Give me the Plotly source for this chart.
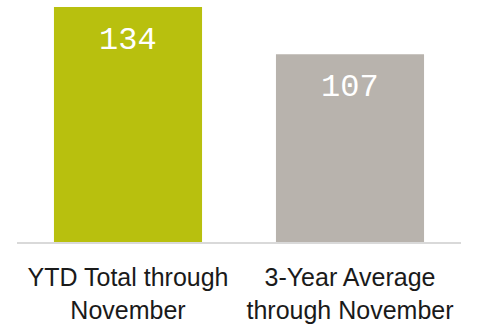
import plotly.graph_objects as go

categories = ["YTD Total through<br>November", "3-Year Average<br>through November"]
values = [134, 107]
colors = ["#B8C00E", "#B8B3AD"]

fig = go.Figure(
    go.Bar(
        x=categories,
        y=values,
        marker=dict(color=colors, line=dict(width=0)),
        hoverinfo="skip",
    )
)

# value labels placed inside each bar, a fixed distance below its top
for cat, val in zip(categories, values):
    fig.add_annotation(
        x=cat, y=val, text=str(val), showarrow=False,
        yanchor="middle", yshift=-33,
        font=dict(family="Liberation Mono", size=32, color="white"),
    )

fig.update_layout(
    width=482, height=326,
    margin=dict(l=17, r=21, t=7, b=84),
    plot_bgcolor="white", paper_bgcolor="white",
    bargap=0.333,
    showlegend=False,
    xaxis=dict(
        showgrid=False, showline=True, linecolor="#D9D9D9", linewidth=2,
        ticks="", ticklabelstandoff=12, automargin=False,
        tickfont=dict(family="Liberation Sans Narrow, Arial Narrow, Liberation Sans", size=25, color="#1A1A1A"),
    ),
    yaxis=dict(range=[0, 134], visible=False, showgrid=False, zeroline=False),
)

fig.write_html("out.html")
